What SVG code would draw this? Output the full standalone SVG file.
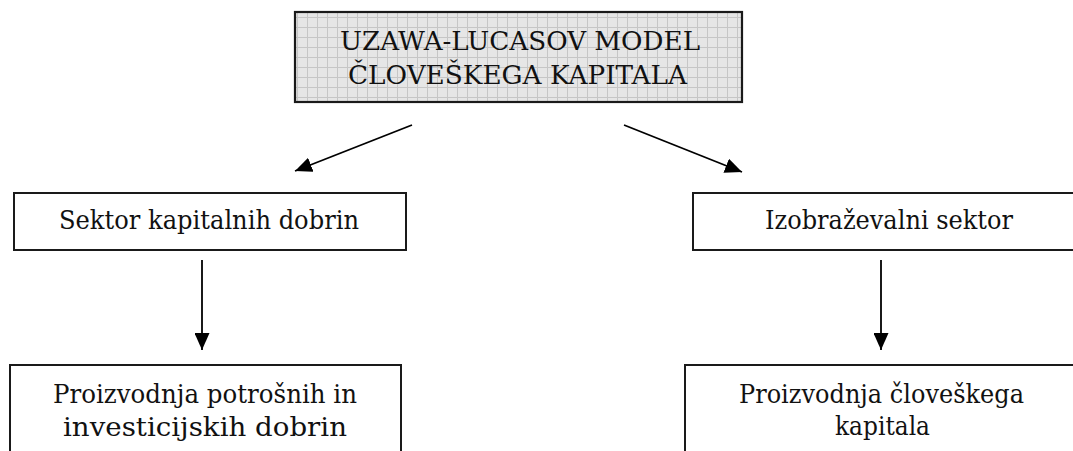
<svg xmlns="http://www.w3.org/2000/svg" width="1073" height="451" viewBox="0 0 1073 451">
  <style>
    .box { fill: #ffffff; stroke: #1a1a1a; stroke-width: 2; }
    .title { fill: url(#grid); stroke: #1a1a1a; stroke-width: 2.2; }
    .lbl { font-family: "DejaVu Serif", "Liberation Serif", serif; font-size: 26px; fill: #111111; }
    .conn { stroke: #000000; stroke-width: 1.8; fill: none; marker-end: url(#arrow); }
  </style>
  <defs>
    <pattern id="grid" patternUnits="userSpaceOnUse" x="7" y="7" width="10" height="10">
      <rect width="10" height="10" fill="#e6e6e6"/>
      <path d="M0 0.5 H10 M0.5 0 V10" stroke="#c6c6c6" stroke-width="1"/>
    </pattern>
    <marker id="arrow" markerUnits="userSpaceOnUse" markerWidth="17" markerHeight="15" refX="17" refY="7.5" orient="auto">
      <path d="M0,0 L17,7.5 L0,15 z" fill="#000000"/>
    </marker>
  </defs>

  <g id="node-title">
    <rect class="title" x="295" y="12" width="447" height="90"/>
    <text class="lbl" x="340" y="50" textLength="360" lengthAdjust="spacingAndGlyphs">UZAWA-LUCASOV MODEL</text>
    <text class="lbl" x="348" y="84" textLength="339" lengthAdjust="spacingAndGlyphs">ČLOVEŠKEGA KAPITALA</text>
  </g>

  <g id="node-sektor-kapitalnih">
    <rect class="box" x="14" y="193" width="392" height="57"/>
    <text class="lbl" x="59" y="229" textLength="300" lengthAdjust="spacingAndGlyphs">Sektor kapitalnih dobrin</text>
  </g>

  <g id="node-izobrazevalni">
    <rect class="box" x="693" y="193" width="395" height="57"/>
    <text class="lbl" x="765" y="229" textLength="248" lengthAdjust="spacingAndGlyphs">Izobraževalni sektor</text>
  </g>

  <g id="node-proizvodnja-dobrin">
    <rect class="box" x="10" y="365" width="391" height="100"/>
    <text class="lbl" x="53" y="403" textLength="304" lengthAdjust="spacingAndGlyphs">Proizvodnja potrošnih in</text>
    <text class="lbl" x="63" y="436" textLength="284" lengthAdjust="spacingAndGlyphs">investicijskih dobrin</text>
  </g>

  <g id="node-proizvodnja-kapitala">
    <rect class="box" x="685" y="365" width="400" height="100"/>
    <text class="lbl" x="739" y="403" textLength="285" lengthAdjust="spacingAndGlyphs">Proizvodnja človeškega</text>
    <text class="lbl" x="835" y="435" textLength="95" lengthAdjust="spacingAndGlyphs">kapitala</text>
  </g>

  <g id="connectors">
    <line class="conn" x1="412" y1="125" x2="295" y2="171"/>
    <line class="conn" x1="624" y1="125" x2="742" y2="172"/>
    <line class="conn" x1="202" y1="260" x2="202" y2="350"/>
    <line class="conn" x1="881" y1="260" x2="881" y2="350"/>
  </g>
</svg>
